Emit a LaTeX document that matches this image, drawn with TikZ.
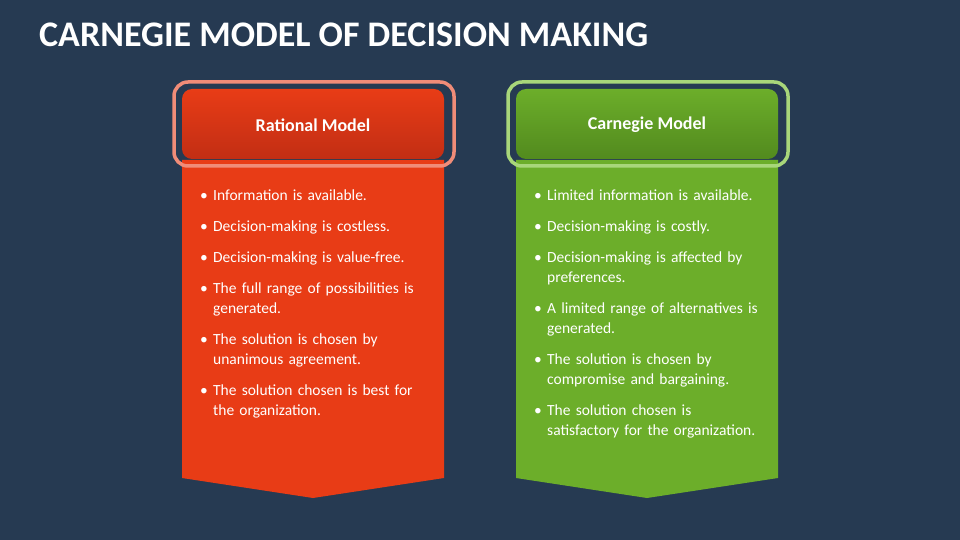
\documentclass[tikz,border=0pt]{standalone}
\usepackage{fontspec}
\setmainfont{Carlito}
\usetikzlibrary{positioning}
\definecolor{bg}{HTML}{263A52}
\definecolor{redA}{HTML}{E83C16}
\definecolor{redB}{HTML}{C22E14}
\definecolor{redRing}{HTML}{F08C78}
\definecolor{grA}{HTML}{6CAE2A}
\definecolor{grB}{HTML}{528A1E}
\definecolor{grRing}{HTML}{A8D67A}
\tikzset{
  ring/.style={line width=3.5pt, rounded corners=14pt},
  head/.style={rounded corners=10pt},
  htext/.style={text=white, font=\bfseries\fontsize{18}{20}\selectfont},
  list/.style={text=white, anchor=north west, align=left, text width=245pt, inner sep=0pt, font=\fontsize{15.5}{20}\selectfont}
}
\newcommand{\itm}[1]{\makebox[13pt][l]{\textbullet}#1}
\begin{document}
\begin{tikzpicture}[x=1pt,y=-1pt]
\fill[bg] (0,0) rectangle (960,540);
\useasboundingbox (0,0) rectangle (960,540);
\node[anchor=west, text=white, font=\bfseries\fontsize{36}{40}\selectfont, inner sep=0pt] (title) at (39,35) {CARNEGIE MODEL OF DECISION MAKING};
% red
\fill[redA] (182,160) -- (444,160) -- (444,478) -- (313,498) -- (182,478) -- cycle;
\draw[redRing, ring] (174,82) rectangle (454,166);
\shade[head, top color=redA, bottom color=redB] (182,89) rectangle (444,159);
\node[htext] (rh) at (313,125) {Rational Model};
\node[list] (rl) at (200,190) {%
\itm{Information is available.}\\[11pt]
\itm{Decision-making is costless.}\\[11pt]
\itm{Decision-making is value-free.}\\[11pt]
\itm{The full range of possibilities is}\\\hspace*{13pt}generated.\\[11pt]
\itm{The solution is chosen by}\\\hspace*{13pt}unanimous agreement.\\[11pt]
\itm{The solution chosen is best for}\\\hspace*{13pt}the organization.};
% green
\fill[grA] (516,160) -- (778,160) -- (778,478) -- (647,498) -- (516,478) -- cycle;
\draw[grRing, ring] (508,82) rectangle (788,166);
\shade[head, top color=grA, bottom color=grB] (516,89) rectangle (778,159);
\node[htext] (gh) at (647,125) {Carnegie Model};
\node[list] (gl) at (534,190) {%
\itm{Limited information is available.}\\[11pt]
\itm{Decision-making is costly.}\\[11pt]
\itm{Decision-making is affected by}\\\hspace*{13pt}preferences.\\[11pt]
\itm{A limited range of alternatives is}\\\hspace*{13pt}generated.\\[11pt]
\itm{The solution is chosen by}\\\hspace*{13pt}compromise and bargaining.\\[11pt]
\itm{The solution chosen is}\\\hspace*{13pt}satisfactory for the organization.};
\end{tikzpicture}
\end{document}
